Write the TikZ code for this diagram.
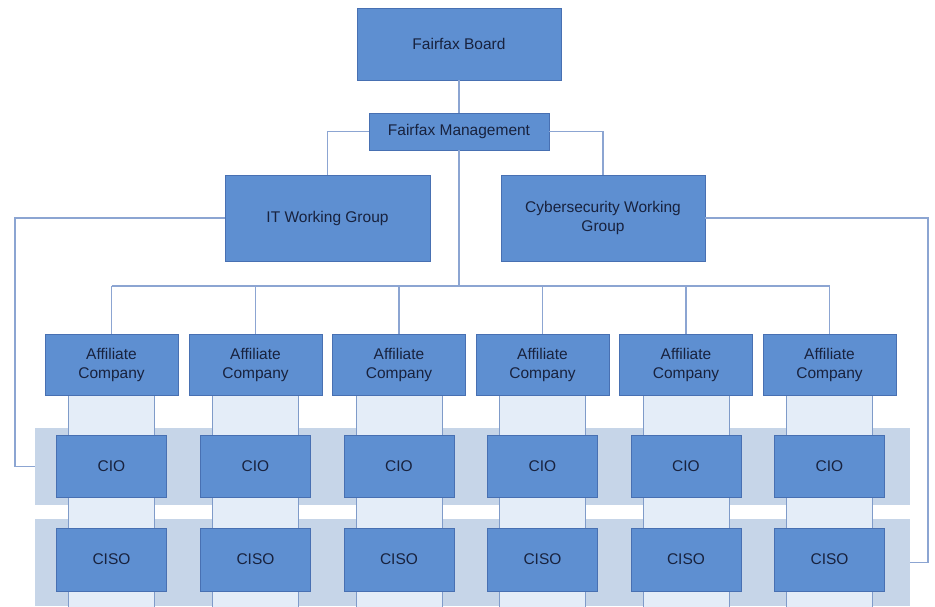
\documentclass[tikz,border=0pt]{standalone}
\usepackage{fontspec}
\setmainfont{Liberation Sans}
\usepackage{tikz}

\definecolor{boxblue}{RGB}{94,143,209}
\definecolor{boxedge}{RGB}{72,112,178}
\definecolor{linkblue}{RGB}{140,165,210}
\definecolor{bandgray}{RGB}{184,202,226}
\definecolor{pillarfill}{RGB}{228,237,248}
\definecolor{textnavy}{RGB}{24,34,62}

\tikzset{
  unit/.style={draw=boxedge, fill=boxblue, rectangle, text=textnavy, align=center,
    font=\fontsize{15.5}{19}\selectfont, inner sep=2pt},
  link/.style={draw=linkblue, line width=1.3pt},
  band/.style={fill=bandgray, fill opacity=0.8, draw=none},
  pillar/.style={draw=boxedge!70, fill=pillarfill, line width=0.8pt}
}

\begin{document}
\begin{tikzpicture}[x=1pt, y=-1pt]
\useasboundingbox (0,0) rectangle (935,606);

% top of the chart
\node[unit, minimum width=204pt, minimum height=72pt] (board) at (459,44) {Fairfax Board};
\node[unit, minimum width=180pt, minimum height=37pt] (mgmt) at (459,131.5) {Fairfax Management};
\node[unit, minimum width=205pt, minimum height=86pt] (itwg) at (327.5,218) {IT Working Group};
\node[unit, minimum width=204pt, minimum height=86pt] (cswg) at (603,218) {Cybersecurity Working\\Group};

% role bands
\node[band, minimum width=875pt, minimum height=77pt, inner sep=0pt] (cioband) at (472.5,466.5) {};
\node[band, minimum width=875pt, minimum height=87pt, inner sep=0pt] (cisoband) at (472.5,562.5) {};

% one column per affiliate
\foreach \i/\x in {1/111.5, 2/255.5, 3/399, 4/542.5, 5/686, 6/829.5} {
  \draw[pillar] (\x-43,395) rectangle (\x+43,607);
  \node[unit, minimum width=133pt, minimum height=61pt] (aff\i) at (\x,364.5) {Affiliate\\Company};
  \node[unit, minimum width=110pt, minimum height=62pt] (cio\i) at (\x,466) {CIO};
  \node[unit, minimum width=110pt, minimum height=63pt] (ciso\i) at (\x,559.5) {CISO};
}

\coordinate (bar) at (459,286);
\coordinate (itcorner) at (15,218);
\coordinate (cscorner) at (928,218);

\draw[link] (board) -- (mgmt);
\draw[link] (mgmt.west) -| (itwg.north);
\draw[link] (mgmt.east) -| (cswg.north);
\draw[link] (mgmt.south) -- (bar);
\draw[link] (aff1.north |- bar) -- (aff6.north |- bar);
\foreach \i in {1,...,6}
  \draw[link] (aff\i.north |- bar) -- (aff\i.north);

\draw[link] (itwg.west) -- (itcorner) |- (cioband.west);
\draw[link] (cswg.east) -- (cscorner) |- (cisoband.east);
\end{tikzpicture}
\end{document}
